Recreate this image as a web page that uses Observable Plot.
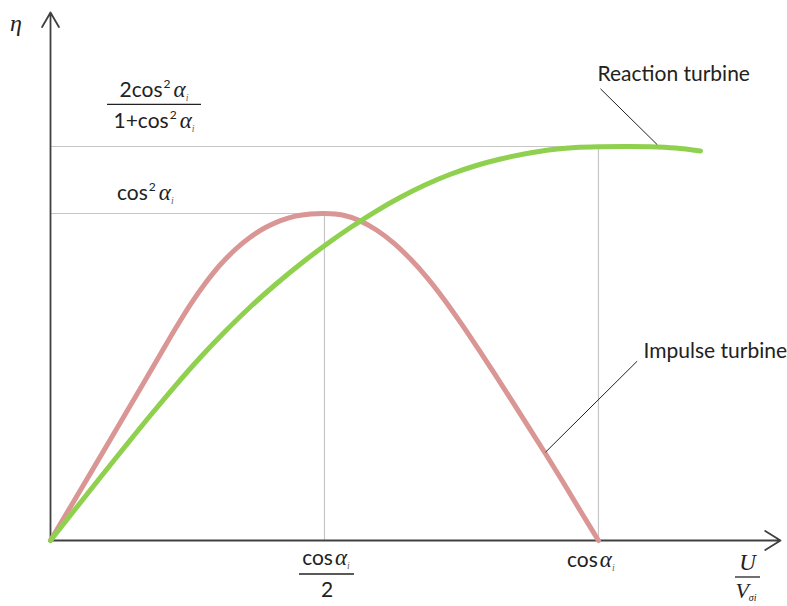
<!DOCTYPE html>
<html>
<head>
<meta charset="utf-8">
<script src="https://cdn.jsdelivr.net/npm/d3@7"></script>
<script src="https://cdn.jsdelivr.net/npm/@observablehq/plot@0.6"></script>
<style>
  html, body { margin: 0; padding: 0; background: #fff; }
</style>
</head>
<body>
<div id="chart"></div>
<script>
// Efficiency η against the speed ratio U/V for impulse and reaction turbines.
const cosA = 0.8124;          // cos α_i
const cos2A = 0.66;           // cos² α_i, peak of the impulse curve
const reactionMax = 0.7952;   // 2cos²α_i / (1 + cos²α_i)
const xMax = 1.0823;          // end of the U/V axis
const yMax = 1.0657;          // end of the η axis

// Impulse turbine curve
const impulseU = [0, 0.0445, 0.0890, 0.1260, 0.1631, 0.1853, 0.2076, 0.2298, 0.2520, 0.2743,
  0.2965, 0.3187, 0.3410, 0.3632, 0.3855, 0.4062, 0.4329, 0.4581, 0.4833, 0.5085, 0.5337,
  0.5589, 0.5841, 0.6093, 0.6345, 0.6597, 0.6849, 0.7101, 0.7353, 0.7605, 0.7857, 0.8124];
const impulseEta = [0, 0.1019, 0.2043, 0.2900, 0.3764, 0.4279, 0.4767, 0.5197, 0.5570, 0.5878,
  0.6127, 0.6317, 0.6457, 0.6548, 0.6590, 0.66, 0.6570, 0.6457, 0.6267, 0.6007, 0.5680,
  0.5296, 0.4856, 0.4372, 0.3861, 0.3336, 0.2803, 0.2265, 0.1720, 0.1165, 0.0595, 0];

// Reaction turbine curve
const reactionU = [0, 0.0371, 0.0741, 0.1112, 0.1483, 0.1853, 0.2224, 0.2595, 0.2965, 0.3336,
  0.3706, 0.4077, 0.4448, 0.4818, 0.5189, 0.5560, 0.5930, 0.6301, 0.6672, 0.7042, 0.7413,
  0.7784, 0.8154, 0.8525, 0.8895, 0.9266, 0.9637];
const reactionEta = [0, 0.0641, 0.1277, 0.1907, 0.2528, 0.3128, 0.3699, 0.4228, 0.4718, 0.5167,
  0.5581, 0.5964, 0.6317, 0.6640, 0.6928, 0.7180, 0.7392, 0.7564, 0.7700, 0.7806, 0.7887,
  0.7932, 0.7948, 0.7952, 0.7948, 0.7922, 0.7861];

// Curve labels and the points their leader lines touch
const curveNames = ["Reaction turbine", "Impulse turbine"];
const labelU = [0.811, 0.8792];
const labelEta = [0.9406, 0.3815];
const leaderFromU = [0.8154, 0.8698];
const leaderFromEta = [0.9117, 0.3619];
const leaderToU = [0.8995, 0.7339];
const leaderToEta = [0.7990, 0.1782];

const impulse = impulseU.map((u, i) => ({u, eta: impulseEta[i]}));
const reaction = reactionU.map((u, i) => ({u, eta: reactionEta[i]}));
const labels = curveNames.map((name, i) => ({
  name, u: labelU[i], eta: labelEta[i],
  u1: leaderFromU[i], eta1: leaderFromEta[i], u2: leaderToU[i], eta2: leaderToEta[i]
}));

const grid = {stroke: "#c6c6c6", strokeWidth: 1.2};
const axisStyle = {stroke: "#404040", strokeWidth: 1.8};
const sans = "Lato, 'Open Sans', sans-serif";
const serif = "'Liberation Serif', 'DejaVu Serif', serif";

const chart = Plot.plot({
  width: 787,
  height: 606,
  marginLeft: 50,
  marginRight: 7,
  marginTop: 12,
  marginBottom: 66,
  x: {domain: [0, xMax], axis: null},
  y: {domain: [0, yMax], axis: null},
  style: {background: "#fff"},
  marks: [
    Plot.ruleY([reactionMax], {x1: 0, x2: cosA, ...grid}),
    Plot.ruleY([cos2A], {x1: 0, x2: cosA / 2, ...grid}),
    Plot.ruleX([cosA], {y1: 0, y2: reactionMax, ...grid}),
    Plot.ruleX([cosA / 2], {y1: 0, y2: cos2A, ...grid}),
    Plot.arrow([0], {x1: 0, y1: 0, x2: xMax, y2: 0, headLength: 15, headAngle: 64, ...axisStyle}),
    Plot.arrow([0], {x1: 0, y1: 0, x2: 0, y2: yMax, headLength: 14, headAngle: 60, ...axisStyle}),
    Plot.line(impulse, {x: "u", y: "eta", stroke: "#d99694", strokeWidth: 5, curve: "catmull-rom"}),
    Plot.line(reaction, {x: "u", y: "eta", stroke: "#8fd14f", strokeWidth: 5, curve: "catmull-rom"}),
    Plot.link(labels, {x1: "u1", y1: "eta1", x2: "u2", y2: "eta2", stroke: "#222", strokeWidth: 1}),
    Plot.text(labels, {x: "u", y: "eta", text: "name", textAnchor: "start", fontSize: 21,
      fontFamily: sans, fill: "#222"})
  ]
});
document.getElementById("chart").appendChild(chart);

// Symbolic tick labels built from styled tspans
const sx = chart.scale("x"), sy = chart.scale("y");
const X = v => sx.apply(v), Y = v => sy.apply(v);
const g = d3.select(chart).append("g").attr("fill", "#222");

function mathText(x, y, parts, anchor = "middle") {
  const t = g.append("text").attr("x", x).attr("y", y).attr("text-anchor", anchor);
  for (const p of parts) {
    const s = t.append("tspan").text(p.t)
      .attr("font-family", p.m ? serif : sans)
      .attr("font-style", p.m ? "italic" : "normal")
      .attr("font-size", p.s || 21);
    if (p.dy) s.attr("dy", p.dy);
    if (p.dx) s.attr("dx", p.dx);
    if (p.c) s.attr("fill", p.c);
  }
  return t;
}
function bar(x1, x2, y) {
  g.append("line").attr("x1", x1).attr("x2", x2).attr("y1", y).attr("y2", y)
    .attr("stroke", "#222").attr("stroke-width", 1.3);
}
const alphaI = [
  {t: "α", m: true, s: 23, dx: 3, dy: 9},
  {t: "i", m: true, s: 10, dy: 4, c: "#666"}
];

// η axis label
mathText(10, 31, [{t: "η", m: true, s: 24}], "start");

// 2cos²α_i / (1 + cos²α_i)
const yr = Y(reactionMax);
mathText(154, yr - 49, [{t: "2cos"}, {t: "2", s: 12, dy: -9, dx: 1}, ...alphaI]);
bar(107, 201, yr - 41.7);
mathText(154, yr - 18, [{t: "1+cos"}, {t: "2", s: 12, dy: -9, dx: 1}, ...alphaI]);

// cos²α_i
mathText(117, Y(cos2A) - 13, [{t: "cos"}, {t: "2", s: 12, dy: -9, dx: 1}, ...alphaI], "start");

// cosα_i / 2
const y0 = Y(0);
mathText(X(cosA / 2) + 2, y0 + 25, [{t: "cos"}, {t: "α", m: true, s: 23, dx: 2}, {t: "i", m: true, s: 10, dy: 4, c: "#666"}]);
bar(X(cosA / 2) - 25, X(cosA / 2) + 30, y0 + 34);
mathText(X(cosA / 2) + 3, y0 + 57, [{t: "2"}]);

// cosα_i
mathText(X(cosA) - 31, y0 + 27, [{t: "cos"}, {t: "α", m: true, s: 23, dx: 2}, {t: "i", m: true, s: 10, dy: 4, c: "#666"}], "start");

// U / V_σi
mathText(747.5, y0 + 30, [{t: "U", m: true, s: 23}]);
bar(735, 760, y0 + 37);
mathText(746, y0 + 58, [{t: "V", m: true, s: 22}, {t: "σi", m: true, s: 10, dy: 3}]);
</script>
</body>
</html>
